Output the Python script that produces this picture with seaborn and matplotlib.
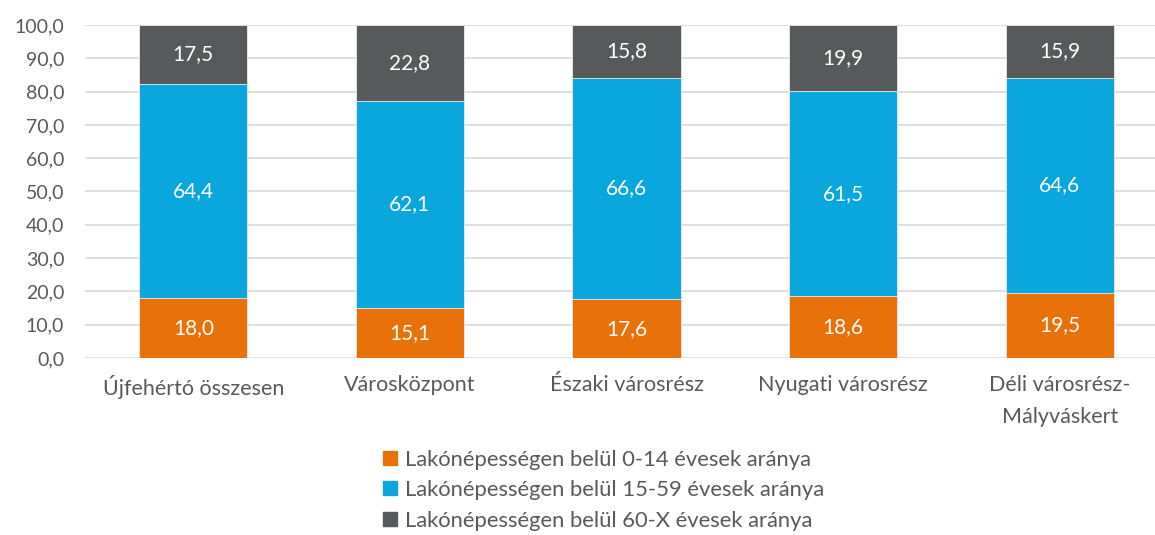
import matplotlib
matplotlib.use('Agg')
import matplotlib.pyplot as plt
import matplotlib.patches as mpatches
import numpy as np
import pandas as pd
import seaborn as sns

# data
districts = ['Újfehértó összesen', 'Városközpont', 'Északi városrész',
             'Nyugati városrész', 'Déli városrész-\nMályváskert']
age_0_14 = [18.0, 15.1, 17.6, 18.6, 19.5]
age_15_59 = [64.4, 62.1, 66.6, 61.5, 64.6]
age_60_x = [17.5, 22.8, 15.8, 19.9, 15.9]
series_names = ['Lakónépességen belül 0-14 évesek aránya',
                'Lakónépességen belül 15-59 évesek aránya',
                'Lakónépességen belül 60-X évesek aránya']
colors = ['#E8710A', '#0AA6DE', '#58595B']
y_ticks = [0, 10, 20, 30, 40, 50, 60, 70, 80, 90, 100]

sns.set_style('white')
plt.rcParams['font.family'] = ['Lato', 'DejaVu Sans']
txt_col = '#595959'

df = pd.DataFrame({'district': districts, 'a': age_0_14, 'b': age_15_59, 'c': age_60_x})
df['ab'] = df['a'] + df['b']
df['abc'] = df['ab'] + df['c']

fig = plt.figure(figsize=(11.55, 5.35), dpi=100)
ax = fig.add_axes([85/1155, 177/535, 1083/1155, 333/535])

# stacked by overdrawing cumulative sums
for col, c in zip(['abc', 'ab', 'a'], colors[::-1]):
    sns.barplot(data=df, x='district', y=col, color=c, width=0.5, ax=ax,
                edgecolor='#EDEDED', linewidth=0.6, saturation=1, zorder=3)

# value labels
bottoms = np.zeros(len(districts))
for vals in [age_0_14, age_15_59, age_60_x]:
    for i, v in enumerate(vals):
        ax.text(i, bottoms[i] + v / 2, f'{v:.1f}'.replace('.', ','), ha='center', va='center',
                color='white', fontsize=15, zorder=4)
    bottoms += np.array(vals)

ax.set_ylim(0, 100)
ax.set_xlim(-0.5, 4.5)
ax.set_yticks(y_ticks)
ax.set_yticklabels([f'{t:.1f}'.replace('.', ',') for t in y_ticks])
ax.yaxis.grid(True, color='#D9D9D9', linewidth=1.2, zorder=0)
ax.set_axisbelow(True)
for s in ax.spines.values():
    s.set_visible(False)
ax.tick_params(axis='y', length=0, labelsize=14, colors=txt_col, pad=15)
ax.tick_params(axis='x', length=0, labelsize=15.5, colors=txt_col, pad=12)
for lab in ax.get_xticklabels():
    lab.set_linespacing(1.75)
ax.set_xlabel('')
ax.set_ylabel('')

handles = [mpatches.Patch(color=c, label=n) for c, n in zip(colors, series_names)]
fig.legend(handles=handles, loc='upper center', bbox_to_anchor=(604/1155, 103/535),
           frameon=False, ncol=1, handlelength=0.6, handleheight=0.6,
           handletextpad=0.4, labelspacing=0.48, borderpad=0.3,
           prop={'size': 15.8}, labelcolor=txt_col)

fig.savefig('out.png', dpi=100)
